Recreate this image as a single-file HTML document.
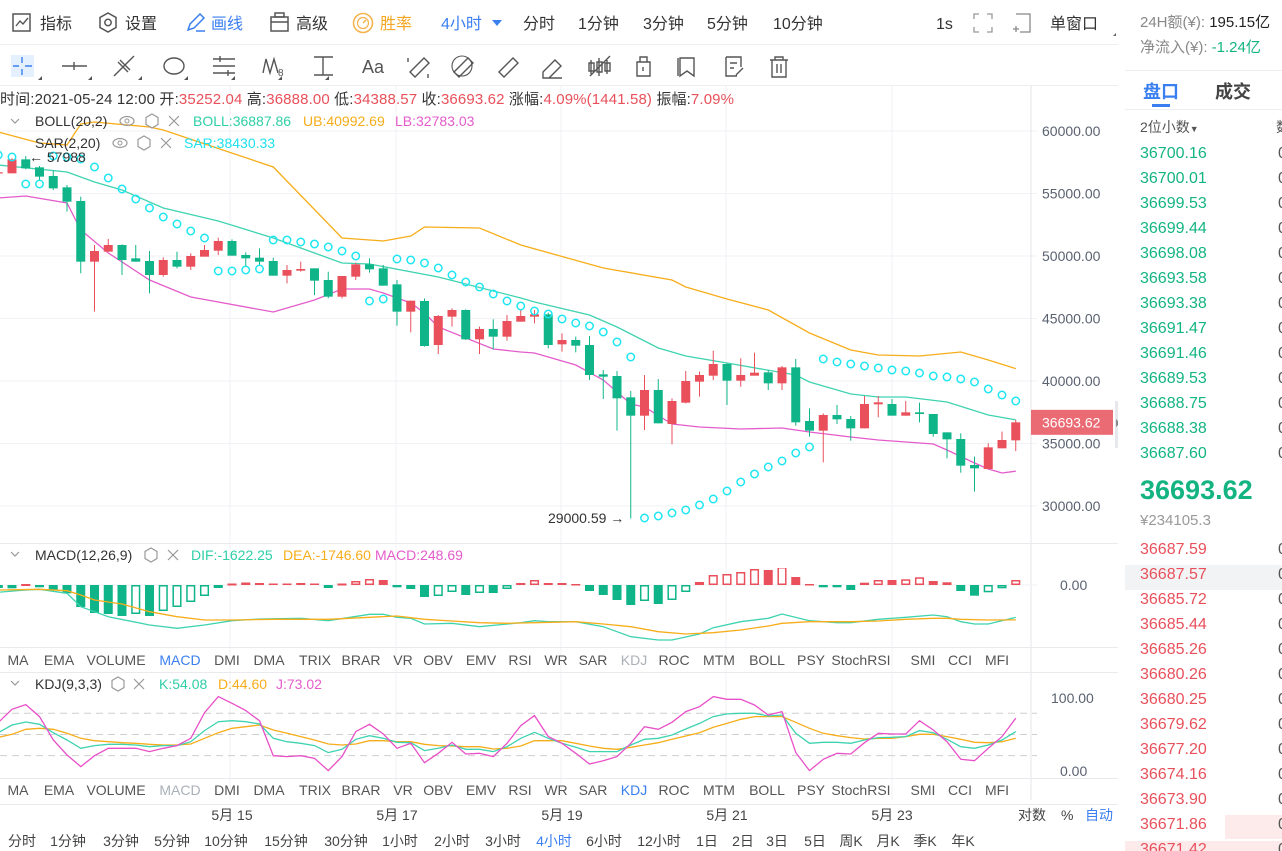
<!DOCTYPE html>
<html><head><meta charset="utf-8">
<style>
body{margin:0;width:1282px;height:851px;overflow:hidden;background:#fff;font-family:"Liberation Sans","Noto Sans CJK SC",sans-serif;position:relative}
.a{position:absolute;white-space:nowrap}
#rp{position:absolute;left:1125px;top:0;width:157px;height:851px;overflow:hidden;background:#fff}
.row{position:absolute;left:15px;font-size:16px;white-space:nowrap}
.g{color:#14b482}.r{color:#e8505b}
</style></head>
<body>
<svg id="chart" width="1118" height="851" style="position:absolute;left:0;top:0" font-family="Liberation Sans, Noto Sans CJK SC, sans-serif">
  <g font-size="16" fill="#333">
    <g>
      <rect x="13" y="14" width="17" height="17" fill="none" stroke="#555" stroke-width="1.5"/>
      <polyline points="16,26 20,21 23,24 28,18" fill="none" stroke="#555" stroke-width="1.4"/>
      <text x="40" y="29">指标</text></g>
    <g>
      <polygon points="108,13 116,17.5 116,27.5 108,32 100,27.5 100,17.5" fill="none" stroke="#555" stroke-width="1.5"/>
      <circle cx="108" cy="22.5" r="3.2" fill="none" stroke="#555" stroke-width="1.5"/>
      <text x="125" y="29">设置</text></g>
    <g>
      <path d="M188 30 L190 24 L200 14 L204 18 L194 28 Z" fill="none" stroke="#3a7ff0" stroke-width="1.5"/>
      <line x1="196" y1="31" x2="205" y2="31" stroke="#3a7ff0" stroke-width="1.5"/>
      <text x="211" y="29" fill="#3a7ff0">画线</text></g>
    <g>
      <rect x="271" y="17" width="17" height="14" fill="none" stroke="#555" stroke-width="1.5"/>
      <rect x="275" y="13" width="9" height="4" fill="none" stroke="#555" stroke-width="1.5"/>
      <line x1="271" y1="22" x2="288" y2="22" stroke="#555" stroke-width="1.5"/>
      <text x="296" y="29">高级</text></g>
    <g>
      <circle cx="363" cy="23" r="9.5" fill="none" stroke="#f5b14a" stroke-width="1.5"/>
      <circle cx="363" cy="23" r="5.5" fill="none" stroke="#f5b14a" stroke-width="1.2"/>
      <line x1="363" y1="23" x2="366" y2="20" stroke="#f5b14a" stroke-width="1.5"/>
      <text x="380" y="29" fill="#f5a623">胜率</text></g>
    <g>
      <text x="441" y="29" fill="#3a7ff0">4小时</text>
      <polygon points="492,20 502,20 497,26" fill="#3a7ff0"/></g>
    <text x="523" y="29">分时</text>
    <text x="578" y="29">1分钟</text>
    <text x="643" y="29">3分钟</text>
    <text x="707" y="29">5分钟</text>
    <text x="773" y="29">10分钟</text>
    <text x="936" y="29">1s</text>
    <g stroke="#999" stroke-width="1.3" fill="none">
      <path d="M974 19 V14 H979 M987 14 H992 V19 M992 27 V32 H987 M979 32 H974 V27"/></g>
    <g stroke="#888" stroke-width="1.3" fill="none">
      <path d="M1016 14 H1030 V32 H1020"/><path d="M1013 29 H1019 M1016 26 V32"/></g>
    <text x="1050" y="29">单窗口</text>
    <polygon points="1113,36 1116,36 1116,33" fill="#666"/>
  </g>
  <line x1="0" y1="44.5" x2="1118" y2="44.5" stroke="#eceef2"/>
  <g stroke="#555" stroke-width="1.4" fill="none">
    <rect x="11" y="55" width="23" height="22" fill="#e4f0fd" stroke="none"/>
    <path d="M22 57 V63 M22 69 V75 M13 66 H19 M25 66 H32" stroke="#3a7ff0"/>
    <path d="M62 66 H87 M74 62 V70"/>
    <path d="M114 76 L134 56 M118 62 L128 72 M120 60 L130 70"/>
    <ellipse cx="174" cy="66" rx="10" ry="8"/>
    <path d="M213 59 H235 M213 66 H235 M213 73 H235 M220 56 V62 M228 70 V76"/>
    <path d="M263 73 L266 59 L270 73 L274 59 L278 73"/>
    <text x="278" y="76" font-size="10" fill="#555" stroke="none">8</text>
    <path d="M314 57 H333 M323 57 V75 M314 75 H333"/>
    <text x="362" y="73" font-size="18" fill="#555" stroke="none">Aa</text>
    <path d="M410 72 L424 58 L429 63 L415 77 Z M408 58 V62 M428 74 V78"/>
    <path d="M454 72 L468 58 L473 63 L459 77 Z"/>
    <circle cx="462" cy="66" r="10" stroke-width="1.1"/>
    <path d="M499 72 L513 58 L518 63 L504 77 Z"/>
    <path d="M543 72 L555 60 L561 66 L549 78 H543 Z M549 78 H562"/>
    <path d="M591 60 V74 M599 58 V76 M607 60 V74 M589 63 H594 V71 H589 Z M597 62 H602 V72 H597 Z M605 63 H610 V71 H605 Z M590 76 L610 56"/>
    <path d="M637 62 H650 V76 H637 Z M640 62 V57 H647 V62 M643 67 V71"/>
    <path d="M680 58 H694 V76 L687 71 L680 76 Z M678 58 V76"/>
    <path d="M726 57 H741 V67 M726 57 V76 H737 M730 63 H737 M730 68 H734 M736 75 L743 68"/>
    <path d="M770 60 H788 M775 60 V57 H783 V60 M772 60 V77 H786 V60 M777 64 V73 M781 64 V73"/>
    <g stroke="none" fill="#555"><polygon points="38,80 42,76 42,80"/><polygon points="88,80 92,76 92,80"/><polygon points="138,80 142,76 142,80"/><polygon points="184,80 188,76 188,80"/><polygon points="231,80 235,76 235,80"/><polygon points="278,80 282,76 282,80"/><polygon points="325,80 329,76 329,80"/></g>
  </g>
  <line x1="0" y1="85.5" x2="1118" y2="85.5" stroke="#eceef2"/>
  <g id="grid"></g>
  <g id="main"></g>
  <g id="macd"></g>
  <g id="kdj"></g>
  <text x="0" y="104" font-size="15" fill="#333" textLength="734" lengthAdjust="spacing">时间:2021-05-24 12:00 开:<tspan fill="#e8505b">35252.04</tspan> 高:<tspan fill="#e8505b">36888.00</tspan> 低:<tspan fill="#e8505b">34388.57</tspan> 收:<tspan fill="#e8505b">36693.62</tspan> 涨幅:<tspan fill="#e8505b">4.09%(1441.58)</tspan> 振幅:<tspan fill="#e8505b">7.09%</tspan></text>
  <g font-size="14">
    <path d="M11 119 L15 123 L19 119" stroke="#999" fill="none" stroke-width="1.2"/>
    <text x="35" y="126" fill="#333">BOLL(20,2)</text>
    <g><ellipse cx="127" cy="121" rx="7" ry="4.5" fill="none" stroke="#999" stroke-width="1.2"/><circle cx="127" cy="121" r="2" fill="none" stroke="#999"/></g>
    <polygon points="152,114 158,117.5 158,124.5 152,128 146,124.5 146,117.5" fill="none" stroke="#999" stroke-width="1.2"/>
    <path d="M169 116 L179 126 M179 116 L169 126" stroke="#999" stroke-width="1.2"/>
    <text x="193" y="126" fill="#2fcfa8">BOLL:36887.86</text>
    <text x="303" y="126" fill="#f7ad1a">UB:40992.69</text>
    <text x="395" y="126" fill="#e45ccb">LB:32783.03</text>
  </g>
  <g font-size="14">
    <text x="35" y="148" fill="#333">SAR(2,20)</text>
    <g><ellipse cx="120" cy="143" rx="7" ry="4.5" fill="none" stroke="#999" stroke-width="1.2"/><circle cx="120" cy="143" r="2" fill="none" stroke="#999"/></g>
    <polygon points="144,136 150,139.5 150,146.5 144,150 138,146.5 138,139.5" fill="none" stroke="#999" stroke-width="1.2"/>
    <path d="M161 138 L171 148 M171 138 L161 148" stroke="#999" stroke-width="1.2"/>
    <text x="184" y="148" fill="#1ee0ee">SAR:38430.33</text>
  </g>
  <text x="29" y="162" font-size="14" fill="#333">← 57988</text>
  <text x="548" y="523" font-size="14" fill="#333">29000.59 →</text>
  <g font-size="14">
    <path d="M11 552 L15 556 L19 552" stroke="#999" fill="none" stroke-width="1.2"/>
    <text x="35" y="560" fill="#333">MACD(12,26,9)</text>
    <polygon points="151,548 157,551.5 157,558.5 151,562 145,558.5 145,551.5" fill="none" stroke="#999" stroke-width="1.2"/>
    <path d="M168 550 L178 560 M178 550 L168 560" stroke="#999" stroke-width="1.2"/>
    <text x="191" y="560" fill="#2fcfa8">DIF:-1622.25</text>
    <text x="283" y="560" fill="#f7ad1a">DEA:-1746.60</text>
    <text x="375" y="560" fill="#e45ccb">MACD:248.69</text>
  </g>
  <g font-size="14">
    <path d="M11 681 L15 685 L19 681" stroke="#999" fill="none" stroke-width="1.2"/>
    <text x="35" y="689" fill="#333">KDJ(9,3,3)</text>
    <polygon points="118,677 124,680.5 124,687.5 118,691 112,687.5 112,680.5" fill="none" stroke="#999" stroke-width="1.2"/>
    <path d="M134 679 L144 689 M144 679 L134 689" stroke="#999" stroke-width="1.2"/>
    <text x="159" y="689" fill="#2fcfa8">K:54.08</text>
    <text x="218" y="689" fill="#f7ad1a">D:44.60</text>
    <text x="276" y="689" fill="#e45ccb">J:73.02</text>
  </g>
  <g id="tabs1" font-size="14" fill="#555" text-anchor="middle"></g>
  <g id="tabs2" font-size="14" fill="#555" text-anchor="middle"></g>
  <g id="xaxis" font-size="14" fill="#444" text-anchor="middle"></g>
  <g font-size="14">
    <text x="1018" y="820" fill="#444">对数</text>
    <text x="1061" y="820" fill="#444">%</text>
    <text x="1085" y="820" fill="#3a7ff0">自动</text>
  </g>
  <g id="tf" font-size="14" fill="#444" text-anchor="middle"></g>
  <rect x="1118" y="0" width="7" height="851" fill="#f0f1f3"/>
</svg>

<div id="rp">
  <div class="row" style="top:11px;font-size:15px;color:#888">24H额(¥): <span style="color:#222">195.15亿</span></div>
  <div class="row" style="top:36px;font-size:15px;color:#888">净流入(¥): <span class="g">-1.24亿</span></div>
  <div style="position:absolute;left:0;top:70px;width:157px;height:1px;background:#eceef2"></div>
  <div class="row" style="top:78px;left:18px;font-size:18px;font-weight:bold;color:#3a7ff0">盘口</div>
  <div style="position:absolute;left:27px;top:104px;width:18px;height:3px;background:#3a7ff0"></div>
  <div class="row" style="top:78px;left:90px;font-size:18px;font-weight:bold;color:#444">成交</div>
  <div style="position:absolute;left:0;top:109px;width:157px;height:1px;background:#eceef2"></div>
  <div class="row" style="top:117px;font-size:14px;color:#555">2位小数<span style="font-size:9px">▼</span></div>
  <div class="row" style="top:117px;left:151px;font-size:14px;color:#555">数</div>
  <div id="asks"></div>
  <div class="row g" style="top:475px;font-size:27px;font-weight:bold">36693.62</div>
  <div class="row" style="top:512px;font-size:15px;color:#999">¥234105.3</div>
  <div style="position:absolute;left:0;top:565px;width:157px;height:25px;background:#f2f3f5"></div>
  <div style="position:absolute;left:100px;top:815px;width:57px;height:24px;background:#fdeaea"></div>
  <div style="position:absolute;left:0;top:841px;width:157px;height:10px;background:#fdeaea"></div>
  <div id="bids"></div>
</div>

<script>
const opens  = [56600,56613,57733,57093,56400,55493,54400,49546,50346,50880,49813,49600,48480,49680,49146,49946,50426,51200,50080,49866,49600,48426,48826,49013,48080,46746,48346,49333,49013,47733,45546,46400,42880,45146,45680,43333,44160,43546,44746,45146,45333,42933,43280,42880,40533,40400,38693,37226,39280,36560,38266,39946,40426,41360,40026,40426,40693,39813,41093,36800,36026,37280,36960,36213,38133,38160,37226,37493,37360,35893,35360,33280,32960,34613,35252.04];
const highs  = [56800,57813,57988,57200,56826,55680,54746,50880,51360,50933,50880,50400,49893,50346,50213,50880,51466,51333,50293,50613,49866,49280,49546,49013,48746,48400,49466,49813,49280,48080,46426,46613,45280,45813,45733,44346,44933,45280,45680,45680,45466,43813,43546,43600,40880,40800,39200,40480,40160,38613,40800,40746,42426,41413,41813,42266,40880,41200,41760,37813,37413,38080,37200,38800,38800,38560,38400,38266,37360,35893,35813,33946,35013,35946,36888];
const lows   = [56500,56613,56933,56080,55280,53546,48613,45546,50346,48480,49546,47013,48346,49013,48880,49946,50080,50026,49146,49280,48426,47813,48746,46880,46613,46613,48080,48666,47626,44426,43893,42746,42160,44346,43280,42160,42533,43226,44746,44613,42613,42346,42293,40080,38560,36026,29000.59,36080,36613,34933,38213,38746,40080,38080,39546,40426,39280,39280,36426,35546,33493,36560,35226,36213,37093,37226,37226,36693,35546,33813,32666,31146,32960,34613,34388.57];
const closes = [56700,57733,57013,56347,55413,54346,49546,50400,50880,49680,49546,48480,49680,49146,50000,50480,51200,50026,49813,49546,48426,48880,48960,48026,46746,48400,49333,48933,47626,45546,46426,42800,45200,45680,43333,44160,43546,44800,45200,45333,42880,43280,42826,40480,40346,38613,37226,39280,36613,38400,40000,40480,41360,40026,40480,40666,39813,41093,36693,36026,37280,36933,36213,38160,38293,37226,37493,37360,35760,35333,33226,33013,34693,35280,36693.62];
const sar = [58080,57920,55760,55760,58000,57920,57760,57120,56240,55360,54560,53840,53120,52560,52000,51440,48800,48800,48880,48960,51280,51280,51120,50960,50720,50400,50000,46400,46560,49760,49680,49440,49040,48480,47920,47520,46960,46400,46000,45600,45360,44960,44640,44400,43920,43120,41920,29040,29200,29440,29680,30080,30560,31200,31920,32560,33120,33600,34240,34720,41760,41520,41360,41200,41040,40880,40800,40640,40400,40320,40160,39920,39360,38880,38400];
const bollUpIdx  = [0,3,5,6,7,11,12,20,25,28,30,31,35,38,44,49,50,53,56,59,62,64,67,70,72,74];
const bollUp     = [59920,59040,58880,60560,60720,60320,60080,57120,51440,51200,51600,52320,52240,50880,49040,48080,47520,46560,45680,43840,42480,42080,42000,42320,41680,40992.69];
const bollMidIdx = [0,5,7,9,12,16,20,25,27,32,38,39,43,45,48,50,53,58,59,62,64,66,69,72,74];
const bollMid    = [57280,56720,55920,55280,53840,52800,51440,49440,49360,48320,46640,46320,45280,44320,42640,42000,41440,40480,39920,38960,38720,38720,38320,37280,36887.86];
const bollLowIdx = [0,2,5,6,8,11,14,20,23,25,27,28,30,31,32,36,38,39,42,44,46,47,49,51,54,57,59,62,64,68,69,71,72,73,74];
const bollLow    = [54640,54800,54240,52080,50240,48080,46720,45520,46480,47360,47360,47040,46240,45440,44320,42560,42320,42240,41280,40080,38160,37920,36560,36320,36160,36240,35920,35520,35280,34960,34480,33440,32960,32640,32783.03];
const macdHist = [-150,-165,50,-115,-250,-415,-1100,-1400,-1450,-1550,-1450,-1550,-1300,-1100,-850,-550,-150,75,125,100,75,75,100,75,-150,75,200,300,250,-115,-200,-600,-550,-350,-500,-400,-400,-200,100,250,100,100,50,-300,-500,-750,-1000,-800,-950,-750,-350,150,500,550,650,800,750,900,400,50,-115,-115,-250,115,250,250,285,385,200,135,-300,-535,-365,-165,248.69];
const difIdx = [0,2,3,5,6,7,8,11,13,15,17,19,22,24,27,28,29,30,31,33,35,38,39,40,42,44,46,48,49,51,52,54,56,57,59,61,62,64,66,68,69,70,71,72,74];
const difVal = [-365,-250,-215,-415,-1085,-1335,-1585,-2000,-2165,-2000,-1785,-1700,-1665,-1785,-1465,-1465,-1615,-1665,-1950,-1915,-2085,-1885,-1785,-1835,-1835,-2085,-2585,-2750,-2750,-2450,-2135,-1835,-1665,-1450,-1785,-1885,-1885,-1715,-1615,-1500,-1585,-1835,-1950,-1950,-1622.25];
const deaIdx = [0,3,5,6,7,9,11,13,15,17,20,22,24,27,29,31,33,35,37,39,42,44,46,48,50,52,54,56,57,59,62,64,66,68,69,70,72,74];
const deaVal = [-250,-215,-285,-500,-750,-950,-1335,-1585,-1750,-1750,-1715,-1715,-1715,-1615,-1550,-1715,-1800,-1885,-1915,-1885,-1835,-1950,-2085,-2335,-2450,-2385,-2250,-2050,-1915,-1835,-1835,-1800,-1715,-1665,-1665,-1715,-1750,-1746.6];
const kVal = [52.5,63.4,67.6,64.3,52.5,42.2,30.4,34.2,36.1,36.1,35.1,32.7,34.2,34.2,39.8,55.4,68.1,69.5,68.1,64.8,44.5,39.8,37.5,34.2,24.3,29,43.1,48.3,44.5,38.9,38.4,27.1,30.4,35.1,29,29,25.7,32.7,44.5,53,44.5,37.5,31.8,25.7,25.7,25.7,35.1,43.1,44.5,49.2,57.7,65.7,75.2,79,79.9,79.9,76.1,77.5,51.6,37.5,38.9,38.9,37.5,42.2,45.5,45.9,46.9,55.4,52.5,43.1,32.7,30.4,35.1,42.2,54.08];
const dVal = [46,50.2,57.3,58.7,57.3,51.6,44.5,41.2,39.8,38.4,37.5,36.1,35.1,35.1,36.5,44.5,52.5,58.7,61,63.4,56.3,51.6,46.9,42.2,36.5,35.1,36.5,41.2,41.2,39.8,39.8,36.1,34.2,33.7,32.7,32.7,29.4,30.4,33.7,41.2,41.2,41.2,37.5,33.7,30.4,29,31.8,35.1,38.4,43.1,47.8,52.5,60.1,65.7,71.4,75.2,75.2,75.2,67.2,58.7,51.6,48.3,45.5,43.6,44.5,44.5,46.9,50.2,50.2,46.9,43.1,38.9,38.4,39.8,44.60];
const jVal = [66.7,85.6,92.2,75.2,42.2,21,4.5,20,30.4,30.4,30.4,25.7,30.4,34.2,44.5,80.8,103.5,94,83.7,69.5,20,18.6,20,16.2,-1.2,18.6,54,64.3,50.7,30.4,37.5,10.1,23.3,38.9,22.4,23.3,18.6,37.5,62.5,76.6,46.9,37.5,23.3,8.2,12.9,18.6,37.5,61,57.3,67.2,82.3,89.3,103.5,99.7,99.7,91.7,77.5,82.3,24.3,-1.2,14.8,23.3,22.4,38.4,51.6,50.7,50.7,69.5,56.3,39.8,14.8,12.9,30.4,46.9,73.02];
const priceTicks = [60000,55000,50000,45000,40000,35000,30000];
const dateLabels = ["5月 15","5月 17","5月 19","5月 21","5月 23"];
const dateIdx = [17,29,41,53,65];
const tabNames = ["MA","EMA","VOLUME","MACD","DMI","DMA","TRIX","BRAR","VR","OBV","EMV","RSI","WR","SAR","KDJ","ROC","MTM","BOLL","PSY","StochRSI","SMI","CCI","MFI"];
const tfNames = ["分时","1分钟","3分钟","5分钟","10分钟","15分钟","30分钟","1小时","2小时","3小时","4小时","6小时","12小时","1日","2日","3日","5日","周K","月K","季K","年K"];
const askPrices = ["36700.16","36700.01","36699.53","36699.44","36698.08","36693.58","36693.38","36691.47","36691.46","36689.53","36688.75","36688.38","36687.60"];
const bidPrices = ["36687.59","36687.57","36685.72","36685.44","36685.26","36680.26","36680.25","36679.62","36677.20","36674.16","36673.90","36671.86","36671.42"];

const NS = "http://www.w3.org/2000/svg";
const xOf = i => 12 + (i - 1) * 13.75;
const yP = p => 131 + (60000 - p) * 0.0125;
const yM = v => 585 - v / 50;
const yK = v => 769.8 - 0.707 * v;
function mk(parent, tag, attrs) {
  const el = document.createElementNS(NS, tag);
  for (const k in attrs) el.setAttribute(k, attrs[k]);
  parent.appendChild(el);
  return el;
}
const GREEN = "#0fb588", RED = "#e9505c";

const grid = document.getElementById("grid");
[230, 396, 561, 726, 892].forEach(x => {
  const l = mk(grid, "line", {x1: x, y1: 86, x2: x, y2: 800, stroke: "#f0f2f5"});
  
  
});
priceTicks.forEach(p => {
  const l = mk(grid, "line", {x1: 0, y1: yP(p), x2: 1037, y2: yP(p), stroke: "#f0f2f5"});
  
  
  const t = mk(grid, "text", {x: 1042, y: yP(p) + 5, "font-size": 14, fill: "#5a6270"});
  t.textContent = p.toFixed(2);
  
  
});
mk(grid, "line", {x1: 1031, y1: 86, x2: 1031, y2: 800, stroke: "#e4e6ea"});
[543, 647, 672, 778, 804].forEach(y => mk(grid, "line", {x1: 0, y1: y + 0.5, x2: 1118, y2: y + 0.5, stroke: "#e8eaee"}));
mk(grid, "line", {x1: 0, y1: yM(0), x2: 1037, y2: yM(0), stroke: "#f0f2f5"});
[[yM(0), "0.00", 1060, 590], [yK(100), "100.00", 1051, 703], [yK(0), "0.00", 1060, 776]].forEach(a => {
  const t = mk(grid, "text", {x: a[2], y: a[3], "font-size": 14, fill: "#5a6270"});
  t.textContent = a[1];
  
  
});
[80, 50, 20].forEach(v => mk(grid, "line", {x1: 0, y1: yK(v), x2: 1037, y2: yK(v), stroke: "#cfcfcf", "stroke-dasharray": "7,5"}));

const main = document.getElementById("main");
const cmClip = mk(main, "clipPath", {id: "cm"});
mk(cmClip, "rect", {x: 0, y: 86, width: 1031, height: 457});
const mg = mk(main, "g", {"clip-path": "url(#cm)"});
function line(parent, idx, vals, yf, color, name) {
  const pts = idx.map((i, k) => xOf(i).toFixed(1) + "," + yf(vals[k]).toFixed(1)).join(" ");
  const pl = mk(parent, "polyline", {points: pts, fill: "none", stroke: color, "stroke-width": 1.3});
  
  
}
line(mg, bollUpIdx, bollUp, yP, "#f7ad1a", "boll-upper-line");
line(mg, bollMidIdx, bollMid, yP, "#3fd3b0", "boll-mid-line");
line(mg, bollLowIdx, bollLow, yP, "#e45ccb", "boll-lower-line");
for (let i = 0; i < closes.length; i++) {
  const up = closes[i] >= opens[i];
  const c = up ? RED : GREEN;
  const x = xOf(i);
  const g = mk(mg, "g", {});
  
  
  mk(g, "line", {x1: x, y1: yP(highs[i]), x2: x, y2: yP(lows[i]), stroke: c, "stroke-width": 1});
  const top = yP(Math.max(opens[i], closes[i])), bot = yP(Math.min(opens[i], closes[i]));
  mk(g, "rect", {x: x - 4.5, y: top, width: 9, height: Math.max(1, bot - top), fill: c});
}
for (let i = 0; i < sar.length; i++) {
  const d = mk(mg, "circle", {cx: xOf(i), cy: yP(sar[i]), r: 3.7, fill: "none", stroke: "#1ee6f2", "stroke-width": 1.5});
  
  
}
const last = closes[closes.length - 1];
const lbl = mk(main, "rect", {x: 1031, y: yP(last) - 12.5, width: 82, height: 25, fill: "#eb6b74"});


const lt = mk(main, "text", {x: 1042, y: yP(last) + 5, "font-size": 14, fill: "#fff"});
lt.textContent = last.toFixed(2);
mk(main, "rect", {x: 1115, y: 401, width: 6, height: 47, fill: "#e6e8eb"});
mk(main, "polygon", {points: "1116,419 1120,423 1116,427", fill: "#888"});

const macd = document.getElementById("macd");
const cmac = mk(macd, "clipPath", {id: "cmac"});
mk(cmac, "rect", {x: 0, y: 568, width: 1031, height: 78});
const mc = mk(macd, "g", {"clip-path": "url(#cmac)"});
for (let i = 0; i < macdHist.length; i++) {
  const v = macdHist[i], prev = i > 0 ? macdHist[i - 1] : v - 1;
  const hollow = v > prev;
  const c = v >= 0 ? RED : GREEN;
  const y0 = yM(0), y1 = yM(v);
  const top = Math.min(y0, y1), h = Math.max(1.5, Math.abs(y1 - y0));
  const b = hollow ? mk(mc, "rect", {x: xOf(i) - 3.8, y: top + 0.75, width: 7.6, height: Math.max(0.5, h - 1.5), fill: "#fff", stroke: c, "stroke-width": 1.5})
                   : mk(mc, "rect", {x: xOf(i) - 4.5, y: top, width: 9, height: h, fill: c});
  
  
}
line(mc, difIdx, difVal, yM, "#3fd3b0", "dif-line");
line(mc, deaIdx, deaVal, yM, "#f7ad1a", "dea-line");

const kdj = document.getElementById("kdj");
const ckdj = mk(kdj, "clipPath", {id: "ckdj"});
mk(ckdj, "rect", {x: 0, y: 694, width: 1031, height: 84});
const kc = mk(kdj, "g", {"clip-path": "url(#ckdj)"});
const allIdx = kVal.map((_, i) => i);
line(kc, allIdx, dVal, yK, "#f7ad1a", "kdj-d-line");
line(kc, allIdx, kVal, yK, "#3fd3b0", "kdj-k-line");
line(kc, allIdx, jVal, yK, "#e950c8", "kdj-j-line");

const tabX = [18,59,116,180,227,269,315,361,403,438,481,520,556,593,634,674,719,767,811,861,923,960,997];
function tabs(id, y, active, dim) {
  const g = document.getElementById(id);
  tabNames.forEach((n, k) => {
    const t = mk(g, "text", {x: tabX[k], y: y});
    t.textContent = n;
    if (n === active) t.setAttribute("fill", "#3a7ff0");
    if (n === dim) t.setAttribute("fill", "#aab0b8");
    
    
  });
}
tabs("tabs1", 665, "MACD", "KDJ");
tabs("tabs2", 795, "KDJ", "MACD");
const xa = document.getElementById("xaxis");
dateLabels.forEach((d, k) => {
  const t = mk(xa, "text", {x: xOf(dateIdx[k]), y: 820});
  t.textContent = d;
  
  
});
const tfX = [22,68,121,172,226,286,346,400,452,503,554,604,659,707,743,777,815,851,888,925,963];
const tf = document.getElementById("tf");
tfNames.forEach((n, k) => {
  const t = mk(tf, "text", {x: tfX[k], y: 846});
  t.textContent = n;
  if (n === "4小时") t.setAttribute("fill", "#3a7ff0");
  
  
});

function rows(id, arr, y0, cls) {
  const c = document.getElementById(id);
  arr.forEach((p, k) => {
    const d = document.createElement("div");
    d.className = "row " + cls;
    d.style.top = (y0 + 25 * k) + "px";
    d.textContent = p;
    
    
    c.appendChild(d);
    const q = document.createElement("div");
    q.className = "row";
    q.style.cssText = "left:153px;color:#555;top:" + (y0 + 25 * k) + "px";
    q.textContent = "0";
    c.appendChild(q);
  });
}
rows("asks", askPrices, 145, "g");
rows("bids", bidPrices, 541, "r");
</script>
</body></html>
